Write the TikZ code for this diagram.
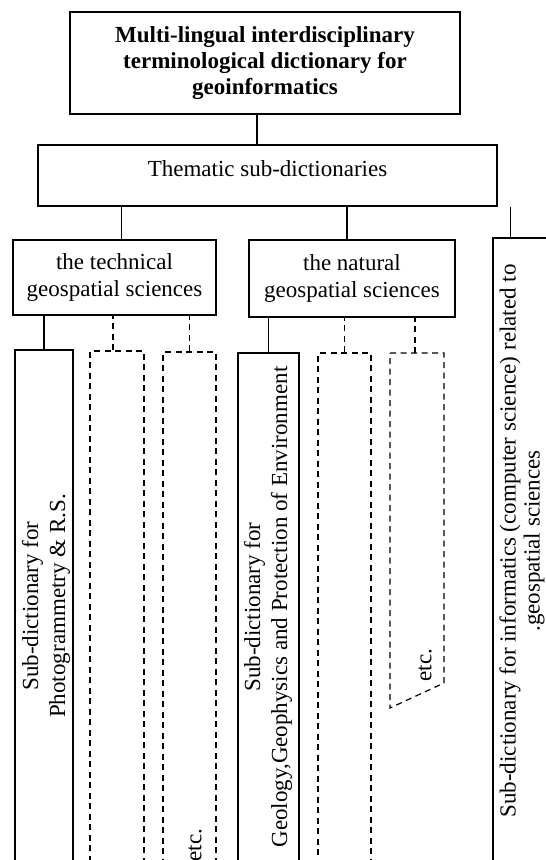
\documentclass[tikz,border=0pt]{standalone}
\usepackage{fontspec}
\setmainfont{Liberation Serif}
\usepackage{tikz}
\usetikzlibrary{positioning}

\begin{document}
\begin{tikzpicture}[x=1pt, y=-1pt, line width=1.3pt,
        box/.style={draw, rectangle, inner sep=0pt, align=center,
            font=\fontsize{23}{27}\selectfont},
        dbox/.style={box, dash pattern=on 6pt off 4.5pt, line width=1.2pt},
        rot/.style={rotate=90, align=center, inner sep=0pt,
            font=\fontsize{23}{27}\selectfont}]
        \useasboundingbox (0, 0) rectangle (546, 860);
        \clip (0, 0) rectangle (546, 860);

        \node [box, minimum width=390, minimum height=102,
            font=\fontsize{23}{26}\selectfont\bfseries] (dict) at (265, 63)
            {Multi-lingual interdisciplinary\\terminological dictionary for\\geoinformatics};
        \node [box, minimum width=459, minimum height=61, text depth=14pt] (them) at (267.5, 175.5)
            {Thematic sub-dictionaries};

        \node [box, minimum width=203, minimum height=75] (tech) at (114.5, 277.5)
            {the technical\\geospatial sciences};
        \node [box, minimum width=206, minimum height=77] (nat) at (352, 278.5)
            {the natural\\geospatial sciences};
        \node [box, minimum width=120, minimum height=700] (rbox) at (553, 588) {};

        \node [box, minimum width=58, minimum height=700] (photo) at (44, 700) {};
        \node [dbox, minimum width=54, minimum height=700] (tech2) at (117, 701) {};
        \node [dbox, minimum width=53, minimum height=700] (tech3) at (189.5, 702) {};
        \node [box, minimum width=61, minimum height=700] (geo) at (268.5, 703) {};
        \node [dbox, minimum width=53, minimum height=700] (nat2) at (344.5, 703) {};
        \coordinate (nat3) at (415, 353);
        \draw [dash pattern=on 6pt off 4.5pt, line width=1.2pt]
            (390, 353) -- (444, 353) -- (444, 683) -- (390, 708) -- cycle;

        \draw ([xshift=-8]dict.south) -- ([xshift=-8]dict.south |- them.north);
        \draw ([xshift=7]tech.north) -- ([xshift=7]tech.north |- them.south);
        \draw ([xshift=-5]nat.north) -- ([xshift=-5]nat.north |- them.south);
        \draw ([xshift=18]rbox.north west) -- ([xshift=18]rbox.north west |- them.south);

        \draw (photo.north) -- (photo.north |- tech.south);
        \draw [dash pattern=on 6pt off 4.5pt, line width=1.2pt]
            ([xshift=-4]tech2.north) -- ([xshift=-4]tech2.north |- tech.south);
        \draw [dash pattern=on 6pt off 4.5pt, line width=1.2pt]
            (tech3.north) -- (tech3.north |- tech.south);
        \draw (geo.north) -- (geo.north |- nat.south);
        \draw [dash pattern=on 6pt off 4.5pt, line width=1.2pt]
            (nat2.north) -- (nat2.north |- nat.south);
        \draw [dash pattern=on 6pt off 4.5pt, line width=1.2pt]
            (nat3) -- (nat3 |- nat.south);

        \node [rot] (phototext) at (46, 606)
            {Sub-dictionary for\\Photogrammetry \& R.S.};
        \node [rot] (geotext) at (268, 607)
            {Sub-dictionary for\\Geology,Geophysics and Protection of Environment};
        \node [rot, font=\fontsize{23}{24}\selectfont] (rtext) at (522, 541)
            {Sub-dictionary for informatics (computer science) related to\\.geospatial sciences};
        \node [rot] (etc1) at (195, 845) {etc.};
        \node [rot] (etc2) at (425, 665) {etc.};
    \end{tikzpicture}
\end{document}
